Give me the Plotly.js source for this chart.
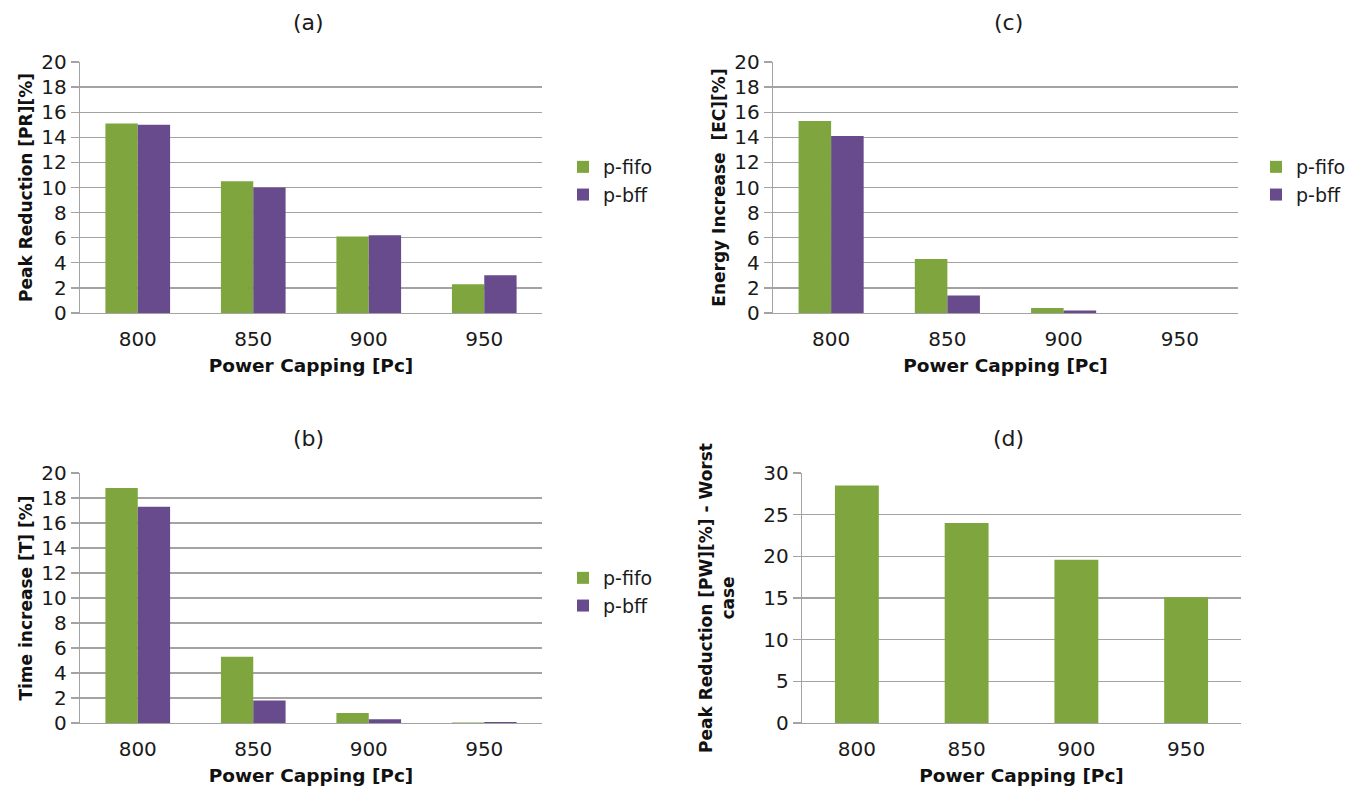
<!DOCTYPE html>
<html>
<head>
<meta charset="utf-8">
<script src="https://cdn.plot.ly/plotly-3.0.1.min.js"></script>
<style>html,body{margin:0;padding:0;background:#fff;}#chart{width:1355px;height:789px;}</style>
</head>
<body>
<div id="chart"></div>
<script>
// Categories (power capping)
const categories = ['800', '850', '900', '950'];
// (a) Peak Reduction [PR] [%]
const peakFifo = [15.1, 10.5, 6.1, 2.3];
const peakBff = [15.0, 10.0, 6.2, 3.0];
// (c) Energy Increase [EC] [%]
const energyFifo = [15.3, 4.3, 0.4, 0];
const energyBff = [14.1, 1.4, 0.2, 0];
// (b) Time increase [T] [%]
const timeFifo = [18.8, 5.3, 0.8, 0.04];
const timeBff = [17.3, 1.8, 0.3, 0.08];
// (d) Peak Reduction [PW] [%] - Worst case
const worstFifo = [28.5, 24.0, 19.6, 15.1];
// labels
const seriesNames = ['p-fifo', 'p-bff'];
const panelTitles = ['(a)', '(c)', '(b)', '(d)'];
const xTitle = 'Power Capping [Pc]';
const yTitles = ['Peak Reduction [PR][%]', 'Energy Increase  [EC][%]', 'Time increase [T] [%]', 'Peak Reduction [PW][%] - Worst<br>case'];

const GREEN = '#7fa63e';
const PURPLE = '#684b8c';
const GRID = '#a3a3a3';
const FONT = 'DejaVu Sans, Verdana, sans-serif';
const W = 1355, H = 789;
const px = v => v / W;
const py = v => (H - v) / H;

const traces = [
  {type: 'bar', x: categories, y: peakFifo, name: seriesNames[0], marker: {color: GREEN}, xaxis: 'x', yaxis: 'y', legend: 'legend'},
  {type: 'bar', x: categories, y: peakBff, name: seriesNames[1], marker: {color: PURPLE}, xaxis: 'x', yaxis: 'y', legend: 'legend'},
  {type: 'bar', x: categories, y: energyFifo, name: seriesNames[0], marker: {color: GREEN}, xaxis: 'x2', yaxis: 'y2', legend: 'legend2'},
  {type: 'bar', x: categories, y: energyBff, name: seriesNames[1], marker: {color: PURPLE}, xaxis: 'x2', yaxis: 'y2', legend: 'legend2'},
  {type: 'bar', x: categories, y: timeFifo, name: seriesNames[0], marker: {color: GREEN}, xaxis: 'x3', yaxis: 'y3', legend: 'legend3'},
  {type: 'bar', x: categories, y: timeBff, name: seriesNames[1], marker: {color: PURPLE}, xaxis: 'x3', yaxis: 'y3', legend: 'legend3'},
  {type: 'bar', x: categories, y: worstFifo, name: seriesNames[0], marker: {color: GREEN}, xaxis: 'x4', yaxis: 'y4', showlegend: false, width: 0.4}
];

function xax(domain, anchor) {
  return {
    domain: domain, anchor: anchor, type: 'category',
    showline: true, linecolor: GRID, linewidth: 1.3,
    ticks: 'outside', ticklen: 8, tickcolor: 'rgba(0,0,0,0)',
    showgrid: false, zeroline: false,
    tickfont: {family: FONT, size: 20, color: '#1a1a1a'},
    title: {text: xTitle, standoff: 8, font: {family: FONT, size: 18.5, color: '#111', weight: 'bold'}}
  };
}
function yax(domain, anchor, range, dtick, title, standoff) {
  return {
    domain: domain, anchor: anchor, range: range, dtick: dtick, tick0: 0,
    showline: true, linecolor: GRID, linewidth: 1.3,
    ticks: 'outside', ticklen: 8, tickcolor: GRID, tickwidth: 1.3,
    showgrid: true, gridcolor: GRID, gridwidth: 1.3, zeroline: false,
    tickfont: {family: FONT, size: 20, color: '#1a1a1a'},
    title: {text: title, standoff: standoff, font: {family: FONT, size: 17, color: '#111', weight: 'bold'}}
  };
}

const legendBase = {
  xanchor: 'left', yanchor: 'top', bgcolor: 'rgba(0,0,0,0)',
  font: {family: FONT, size: 19, color: '#1a1a1a'}, tracegroupgap: 0
};

const yTop = [py(313), py(62)];
const yBot = [py(723), py(473)];

const layout = {
  width: W, height: H,
  margin: {l: 0, r: 0, t: 0, b: 0},
  paper_bgcolor: '#fff', plot_bgcolor: '#fff',
  barmode: 'group', bargap: 0.44, bargroupgap: 0,
  font: {family: FONT},
  xaxis: xax([px(80), px(542)], 'y'),
  yaxis: yax(yTop, 'x', [0, 20], 2, yTitles[0], 4),
  xaxis2: xax([px(773), px(1238)], 'y2'),
  yaxis2: yax(yTop, 'x2', [0, 20], 2, yTitles[1], 4),
  xaxis3: xax([px(80), px(542)], 'y3'),
  yaxis3: yax(yBot, 'x3', [0, 20], 2, yTitles[2], 4),
  xaxis4: xax([px(802), px(1241)], 'y4'),
  yaxis4: yax(yBot, 'x4', [0, 30], 5, yTitles[3], 24),
  legend: Object.assign({x: px(563), y: py(148)}, legendBase),
  legend2: Object.assign({x: px(1256), y: py(148)}, legendBase),
  legend3: Object.assign({x: px(563), y: py(559)}, legendBase),
  annotations: [
    {text: panelTitles[0], x: px(308), y: py(22)},
    {text: panelTitles[1], x: px(1008), y: py(22)},
    {text: panelTitles[2], x: px(308), y: py(438)},
    {text: panelTitles[3], x: px(1008), y: py(438)}
  ].map(a => Object.assign({xref: 'paper', yref: 'paper', showarrow: false, xanchor: 'center', yanchor: 'middle',
    font: {family: FONT, size: 22, color: '#1a1a1a'}}, a))
};

Plotly.newPlot('chart', traces, layout, {displayModeBar: false, staticPlot: true});
</script>
</body>
</html>
